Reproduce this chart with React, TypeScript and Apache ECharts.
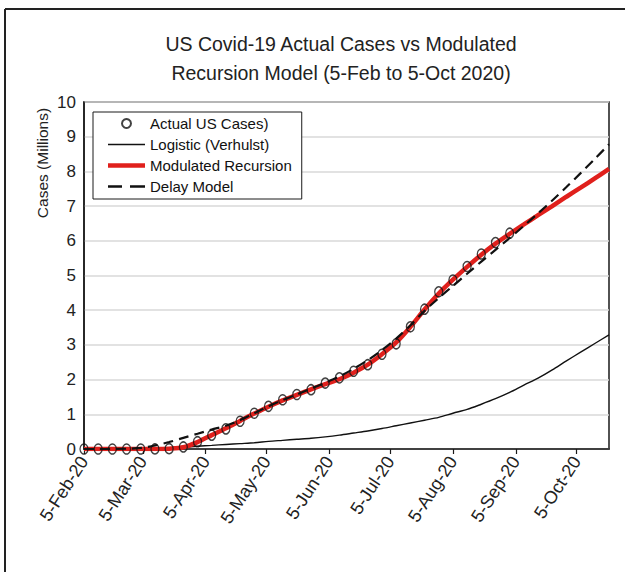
import React, { useEffect, useRef } from "react";
import * as echarts from "echarts";

const tickDays = [0, 29, 60, 90, 121, 151, 182, 213, 243];
const tickLabels = ["5-Feb-20", "5-Mar-20", "5-Apr-20", "5-May-20", "5-Jun-20", "5-Jul-20", "5-Aug-20", "5-Sep-20", "5-Oct-20"];

// days since 5-Feb-2020 (weekly observations)
const actualDays = [0, 7, 14, 21, 28, 35, 42, 49, 56, 63, 70, 77, 84, 91, 98, 105, 112, 119, 126, 133, 140, 147, 154, 161, 168, 175, 182, 189, 196, 203, 210];
const actualCases = [0, 0, 0, 0, 0, 0.001, 0.01, 0.06, 0.21, 0.4, 0.58, 0.8, 1.03, 1.23, 1.42, 1.57, 1.71, 1.9, 2.05, 2.24, 2.43, 2.73, 3.03, 3.52, 4.03, 4.53, 4.87, 5.26, 5.62, 5.95, 6.22];

const modelDays = [0, 7, 14, 21, 28, 35, 42, 49, 56, 63, 70, 77, 84, 91, 98, 105, 112, 119, 126, 133, 140, 147, 154, 161, 168, 175, 182, 189, 196, 203, 210, 217, 224, 231, 238, 245, 252, 259];
const logistic = [0, 0, 0, 0.001, 0.003, 0.01, 0.025, 0.05, 0.08, 0.105, 0.13, 0.155, 0.18, 0.22, 0.25, 0.28, 0.31, 0.35, 0.4, 0.46, 0.52, 0.59, 0.67, 0.75, 0.83, 0.91, 1.03, 1.14, 1.29, 1.45, 1.63, 1.84, 2.04, 2.28, 2.54, 2.79, 3.04, 3.29];
const modulated = [0, 0, 0, 0, 0, 0, 0.01, 0.05, 0.2, 0.4, 0.6, 0.81, 1.02, 1.22, 1.4, 1.56, 1.72, 1.87, 2.01, 2.2, 2.43, 2.73, 3.07, 3.52, 4.02, 4.48, 4.88, 5.25, 5.6, 5.92, 6.2, 6.47, 6.74, 7.0, 7.27, 7.53, 7.8, 8.07];
const delay = [0, 0, 0.002, 0.008, 0.03, 0.1, 0.2, 0.32, 0.44, 0.56, 0.67, 0.83, 1.03, 1.23, 1.41, 1.57, 1.74, 1.91, 2.09, 2.31, 2.56, 2.85, 3.18, 3.56, 3.98, 4.35, 4.7, 5.05, 5.4, 5.74, 6.08, 6.43, 6.79, 7.16, 7.55, 7.95, 8.36, 8.78];

const FONT = "'Liberation Sans', Arial, sans-serif";

export default function App() {
  const ref = useRef<HTMLDivElement>(null);
  useEffect(() => {
    document.body.style.margin = "0";
    if (!ref.current) return;
    const chart = echarts.init(ref.current, null, { renderer: "svg" });
    const pair = (xs: number[], ys: number[]) => xs.map((x, i) => [x, ys[i]]);
    chart.setOption({
      animation: false,
      backgroundColor: "#ffffff",
      textStyle: { fontFamily: FONT },
      grid: { left: 84, top: 102, right: 16, bottom: 123, show: true, borderColor: "#1a1a1a", borderWidth: 1.5, backgroundColor: "transparent" },
      xAxis: {
        type: "value",
        min: 0,
        max: 259,
        splitLine: { show: false },
        axisLine: { lineStyle: { color: "#1a1a1a", width: 1.5 } },
        axisTick: { show: true, length: 5, customValues: tickDays, lineStyle: { color: "#1a1a1a", width: 1.2 } },
        axisLabel: {
          customValues: tickDays,
          rotate: 57,
          margin: 9,
          fontSize: 18,
          color: "#222",
          fontFamily: FONT,
          formatter: (v: number) => {
            const i = tickDays.indexOf(Math.round(v));
            return i >= 0 ? tickLabels[i] : "";
          },
        },
      },
      yAxis: {
        type: "value",
        min: 0,
        max: 10,
        interval: 1,
        axisLine: { show: true, lineStyle: { color: "#1a1a1a", width: 1.5 } },
        axisTick: { show: false },
        splitLine: { lineStyle: { color: "#d9d9d9", width: 1.5 } },
        axisLabel: { fontSize: 17, color: "#222", margin: 8, fontFamily: FONT },
      },
      legend: {
        orient: "vertical",
        left: 93,
        top: 112,
        padding: [4, 10, 5, 15],
        itemWidth: 37,
        itemHeight: 9,
        itemGap: 6,
        backgroundColor: "#ffffff",
        borderColor: "#1a1a1a",
        borderWidth: 1,
        borderRadius: 0,
        textStyle: { fontSize: 15, color: "#111", fontFamily: FONT },
        data: [
          { name: "Actual US Cases)" },
          { name: "Logistic (Verhulst)", icon: "path://M0,0h37v1.4h-37z" },
          { name: "Modulated Recursion", icon: "path://M0,0h37v4.5h-37z" },
          { name: "Delay Model", icon: "path://M0,0h14v2.4h-14zM22,0h15v2.4h-15z" },
        ],
      },
      graphic: [
        {
          type: "text",
          x: 341,
          y: 29,
          style: {
            text: "US Covid-19 Actual Cases vs Modulated\nRecursion Model (5-Feb to 5-Oct 2020)",
            fontSize: 19.5,
            lineHeight: 29,
            fill: "#222",
            fontFamily: FONT,
            textAlign: "center",
          },
        },
        {
          type: "text",
          x: 42,
          y: 163,
          rotation: Math.PI / 2,
          style: {
            text: "Cases (Millions)",
            fontSize: 15.5,
            fill: "#222",
            fontFamily: FONT,
            textAlign: "center",
            textVerticalAlign: "middle",
          },
        },
        { type: "line", shape: { x1: 5, y1: 9, x2: 625, y2: 9 }, style: { stroke: "#222", lineWidth: 2 } },
        { type: "line", shape: { x1: 5, y1: 9, x2: 5, y2: 572 }, style: { stroke: "#222", lineWidth: 2 } },
      ],
      series: [
        {
          name: "Logistic (Verhulst)",
          type: "line",
          data: pair(modelDays, logistic),
          showSymbol: false,
          symbol: "none",
          smooth: 0.3,
          lineStyle: { color: "#111", width: 1.4 },
          itemStyle: { color: "#111" },
          z: 2,
        },
        {
          name: "Modulated Recursion",
          type: "line",
          data: pair(modelDays, modulated),
          showSymbol: false,
          symbol: "none",
          smooth: 0.3,
          lineStyle: { color: "#e0201c", width: 4.5 },
          itemStyle: { color: "#e0201c" },
          z: 3,
        },
        {
          name: "Delay Model",
          type: "line",
          data: pair(modelDays, delay),
          showSymbol: false,
          symbol: "none",
          smooth: 0.3,
          lineStyle: { color: "#111", width: 2.2, type: [10, 6] },
          itemStyle: { color: "#111" },
          z: 4,
        },
        {
          name: "Actual US Cases)",
          type: "scatter",
          data: pair(actualDays, actualCases),
          symbol: "circle",
          symbolSize: [8, 10],
          itemStyle: { color: "rgba(0,0,0,0)", borderColor: "#111", borderWidth: 1.4 },
          z: 5,
        },
      ],
    });
    return () => chart.dispose();
  }, []);
  return <div ref={ref} style={{ width: 625, height: 572 }} />;
}
